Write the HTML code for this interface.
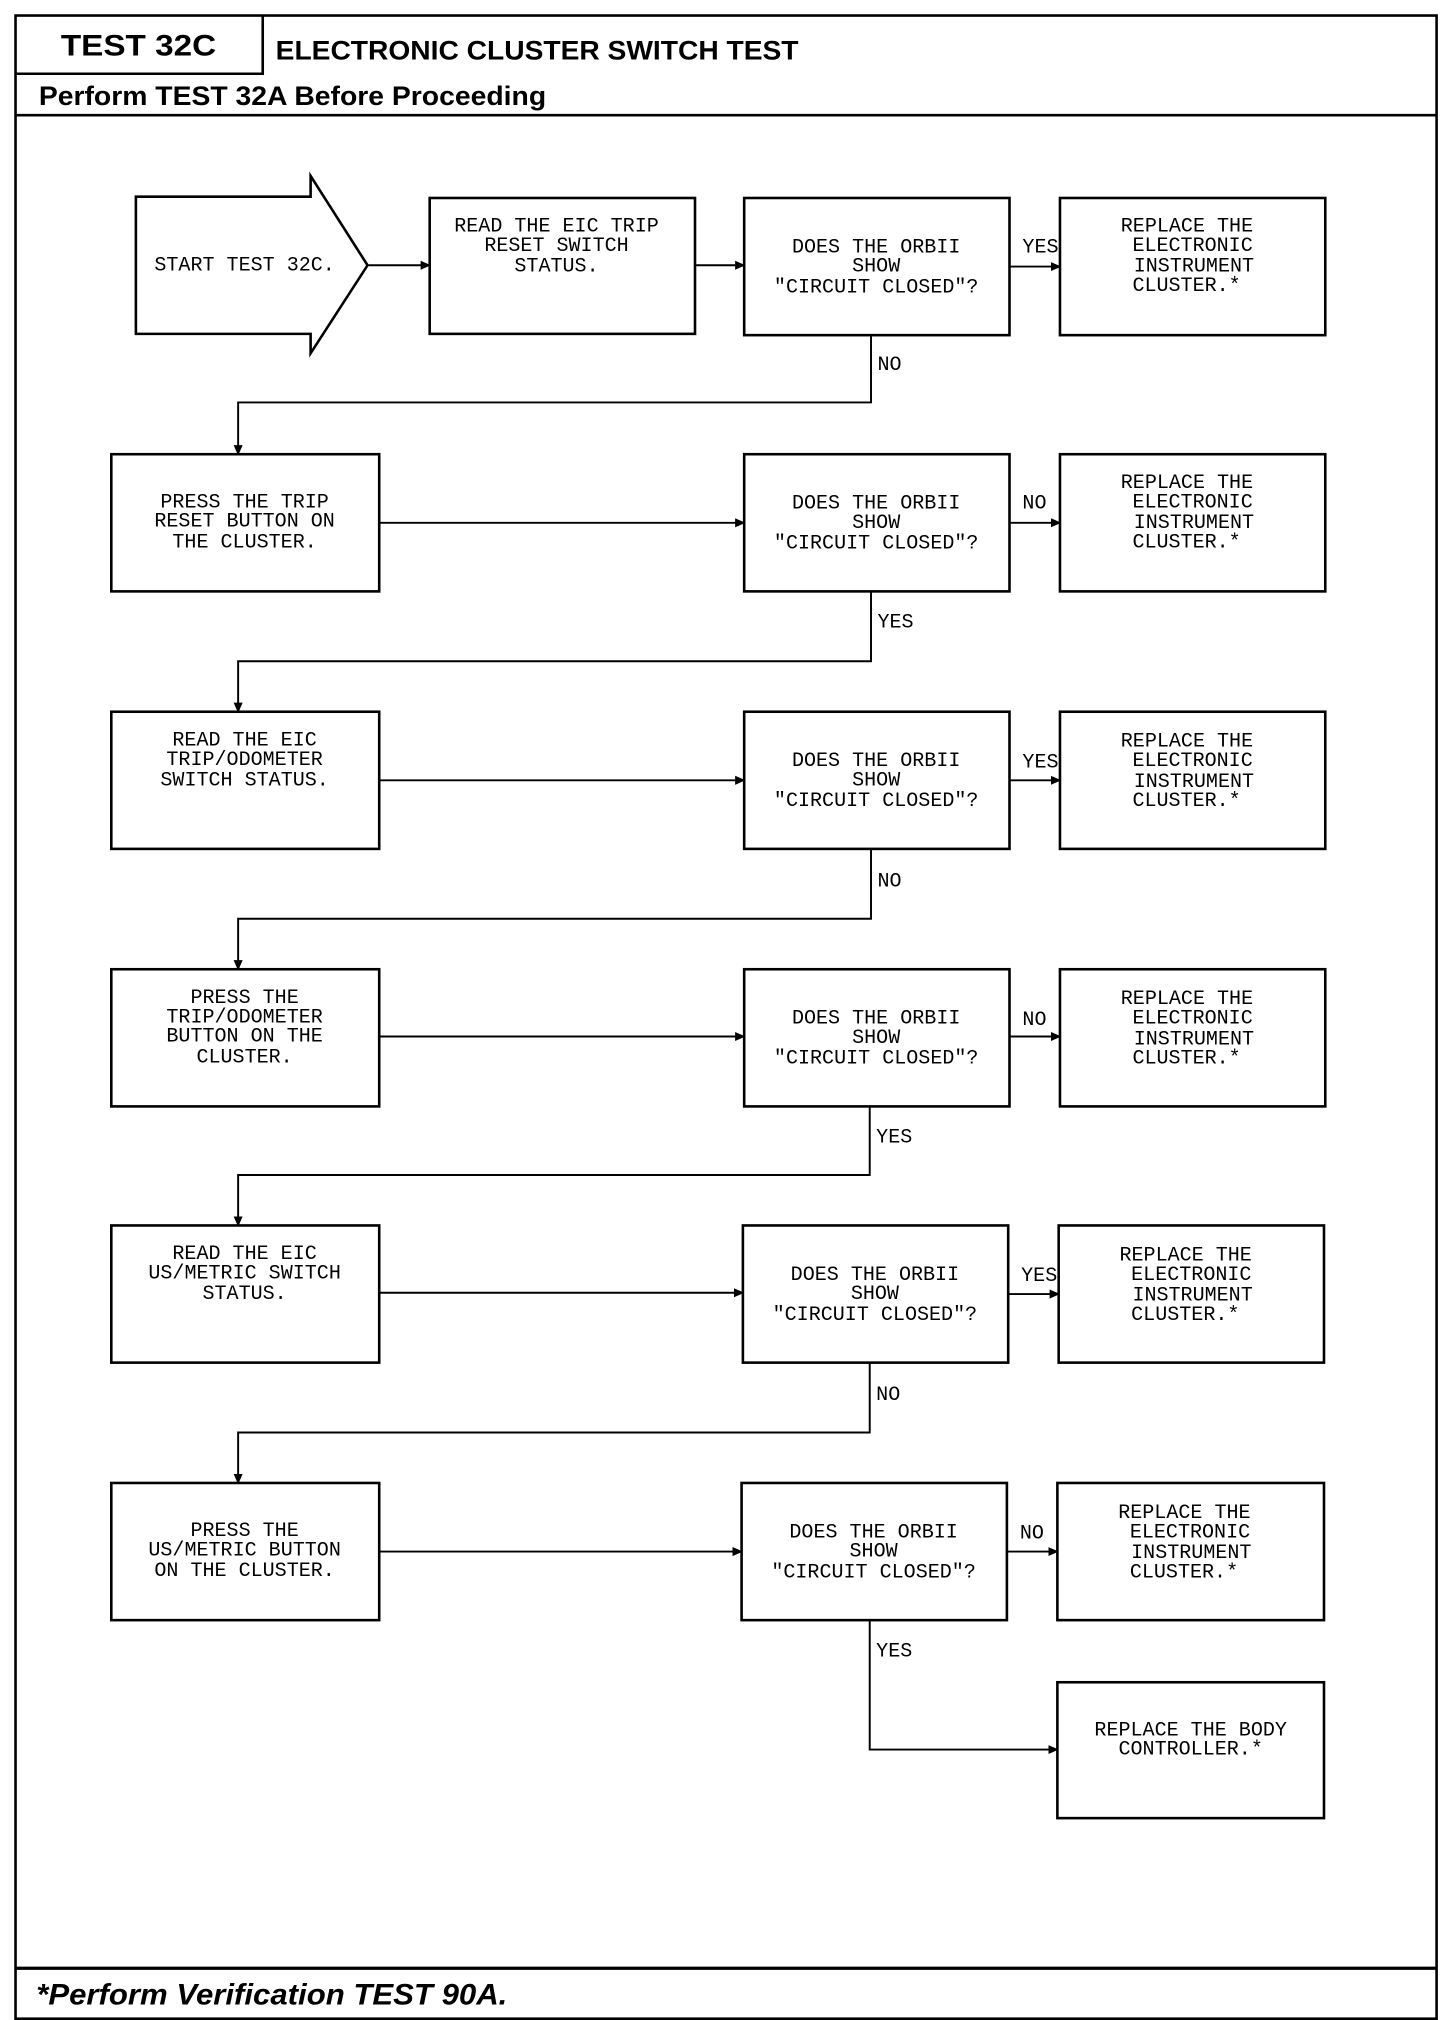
<!DOCTYPE html>
<html><head><meta charset="utf-8"><style>
html,body{margin:0;padding:0;background:#fff;}
svg{display:block;}
.m{font-family:"Liberation Mono",monospace;font-size:15.5px;fill:#000;}
.c{text-anchor:middle;}
</style></head><body>
<svg width="1456" height="2020" viewBox="0 0 1125 1561" preserveAspectRatio="none" xmlns="http://www.w3.org/2000/svg">
<defs><marker id="a" markerWidth="8" markerHeight="8" refX="7" refY="4" orient="auto" markerUnits="userSpaceOnUse"><path d="M0,0.5 L8,4 L0,7.5 z" fill="#000"/></marker></defs>
<rect x="12" y="12" width="1098" height="1548" fill="none" stroke="#000" stroke-width="2"/>
<path d="M203 12 V57 H12" fill="none" stroke="#000" stroke-width="2"/>
<line x1="12" y1="89" x2="1110" y2="89" stroke="#000" stroke-width="2"/>
<line x1="12" y1="1521" x2="1110" y2="1521" stroke="#000" stroke-width="2.5"/>
<text x="107" y="43" text-anchor="middle" font-family="Liberation Sans,sans-serif" font-weight="bold" font-size="23" textLength="120" lengthAdjust="spacingAndGlyphs">TEST 32C</text>
<text x="213" y="46" font-family="Liberation Sans,sans-serif" font-weight="bold" font-size="21" textLength="404" lengthAdjust="spacingAndGlyphs">ELECTRONIC CLUSTER SWITCH TEST</text>
<text x="30" y="81" font-family="Liberation Sans,sans-serif" font-weight="bold" font-size="21" textLength="392" lengthAdjust="spacingAndGlyphs">Perform TEST 32A Before Proceeding</text>
<text x="28" y="1549" font-family="Liberation Sans,sans-serif" font-weight="bold" font-style="italic" font-size="23" textLength="364" lengthAdjust="spacingAndGlyphs">*Perform Verification TEST 90A.</text>

<g fill="none" stroke="#000" stroke-width="2">
<path d="M105 152 H240 V136 L284 205 L240 273 V258 H105 Z"/>
<rect x="332" y="153" width="205" height="105"/>
</g>
<text class="m c" x="189" y="209" font-size="15">START TEST 32C.</text>
<text class="m c" x="430" y="179">READ THE EIC TRIP</text>
<text class="m c" x="430" y="194">RESET SWITCH</text>
<text class="m c" x="430" y="210">STATUS.</text>
<line x1="284" y1="205" x2="332" y2="205" stroke="#000" stroke-width="1.5" marker-end="url(#a)"/>
<line x1="537" y1="205" x2="575" y2="205" stroke="#000" stroke-width="1.5" marker-end="url(#a)"/>

<g fill="none" stroke="#000" stroke-width="2">
<rect x="575" y="153" width="205" height="106"/><rect x="819" y="153" width="205" height="106"/>
<rect x="86" y="351" width="207" height="106"/><rect x="575" y="351" width="205" height="106"/><rect x="819" y="351" width="205" height="106"/>
<rect x="86" y="550" width="207" height="106"/><rect x="575" y="550" width="205" height="106"/><rect x="819" y="550" width="205" height="106"/>
<rect x="86" y="749" width="207" height="106"/><rect x="575" y="749" width="205" height="106"/><rect x="819" y="749" width="205" height="106"/>
<rect x="86" y="947" width="207" height="106"/><rect x="574" y="947" width="205" height="106"/><rect x="818" y="947" width="205" height="106"/>
<rect x="86" y="1146" width="207" height="106"/><rect x="573" y="1146" width="205" height="106"/><rect x="817" y="1146" width="206" height="106"/>
<rect x="817" y="1300" width="206" height="105"/>
</g>
<g fill="none" stroke="#000" stroke-width="1.5">
<line x1="780" y1="206" x2="819" y2="206" marker-end="url(#a)"/>
<path d="M673 259 V311 H184 V351" marker-end="url(#a)"/>
<line x1="293" y1="404" x2="575" y2="404" marker-end="url(#a)"/>
<line x1="780" y1="404" x2="819" y2="404" marker-end="url(#a)"/>
<path d="M673 457 V511 H184 V550" marker-end="url(#a)"/>
<line x1="293" y1="603" x2="575" y2="603" marker-end="url(#a)"/>
<line x1="780" y1="603" x2="819" y2="603" marker-end="url(#a)"/>
<path d="M673 656 V710 H184 V749" marker-end="url(#a)"/>
<line x1="293" y1="801" x2="575" y2="801" marker-end="url(#a)"/>
<line x1="780" y1="801" x2="819" y2="801" marker-end="url(#a)"/>
<path d="M672 855 V908 H184 V947" marker-end="url(#a)"/>
<line x1="293" y1="999" x2="574" y2="999" marker-end="url(#a)"/>
<line x1="779" y1="1000" x2="818" y2="1000" marker-end="url(#a)"/>
<path d="M672 1053 V1107 H184 V1146" marker-end="url(#a)"/>
<line x1="293" y1="1199" x2="573" y2="1199" marker-end="url(#a)"/>
<line x1="778" y1="1199" x2="817" y2="1199" marker-end="url(#a)"/>
<path d="M672 1252 V1352 H817" marker-end="url(#a)"/>
</g>

<g class="m c">
<text x="677" y="195">DOES THE ORBII</text><text x="677" y="210">SHOW</text><text x="677" y="226">"CIRCUIT CLOSED"?</text>
<text x="677" y="393">DOES THE ORBII</text><text x="677" y="408">SHOW</text><text x="677" y="424">"CIRCUIT CLOSED"?</text>
<text x="677" y="592">DOES THE ORBII</text><text x="677" y="607">SHOW</text><text x="677" y="623">"CIRCUIT CLOSED"?</text>
<text x="677" y="791">DOES THE ORBII</text><text x="677" y="806">SHOW</text><text x="677" y="822">"CIRCUIT CLOSED"?</text>
<text x="676" y="989">DOES THE ORBII</text><text x="676" y="1004">SHOW</text><text x="676" y="1020">"CIRCUIT CLOSED"?</text>
<text x="675" y="1188">DOES THE ORBII</text><text x="675" y="1203">SHOW</text><text x="675" y="1219">"CIRCUIT CLOSED"?</text>
<text x="189" y="392">PRESS THE TRIP</text><text x="189" y="407">RESET BUTTON ON</text><text x="189" y="423">THE CLUSTER.</text>
<text x="189" y="576">READ THE EIC</text><text x="189" y="591">TRIP/ODOMETER</text><text x="189" y="607">SWITCH STATUS.</text>
<text x="189" y="775">PRESS THE</text><text x="189" y="790">TRIP/ODOMETER</text><text x="189" y="805">BUTTON ON THE</text><text x="189" y="821">CLUSTER.</text>
<text x="189" y="973">READ THE EIC</text><text x="189" y="988">US/METRIC SWITCH</text><text x="189" y="1004">STATUS.</text>
<text x="189" y="1187">PRESS THE</text><text x="189" y="1202">US/METRIC BUTTON</text><text x="189" y="1218">ON THE CLUSTER.</text>
<text x="920" y="1341">REPLACE THE BODY</text><text x="920" y="1356">CONTROLLER.*</text>
</g>
<g class="m">
<text x="866" y="179">REPLACE THE</text><text x="875" y="194">ELECTRONIC</text><text x="876" y="210">INSTRUMENT</text><text x="875" y="225">CLUSTER.*</text>
<text x="866" y="377">REPLACE THE</text><text x="875" y="392">ELECTRONIC</text><text x="876" y="408">INSTRUMENT</text><text x="875" y="423">CLUSTER.*</text>
<text x="866" y="577">REPLACE THE</text><text x="875" y="592">ELECTRONIC</text><text x="876" y="608">INSTRUMENT</text><text x="875" y="623">CLUSTER.*</text>
<text x="866" y="776">REPLACE THE</text><text x="875" y="791">ELECTRONIC</text><text x="876" y="807">INSTRUMENT</text><text x="875" y="822">CLUSTER.*</text>
<text x="865" y="974">REPLACE THE</text><text x="874" y="989">ELECTRONIC</text><text x="875" y="1005">INSTRUMENT</text><text x="874" y="1020">CLUSTER.*</text>
<text x="864" y="1173">REPLACE THE</text><text x="873" y="1188">ELECTRONIC</text><text x="874" y="1204">INSTRUMENT</text><text x="873" y="1219">CLUSTER.*</text>
<text x="790" y="195">YES</text><text x="790" y="393">NO</text><text x="790" y="593">YES</text><text x="790" y="792">NO</text><text x="789" y="990">YES</text><text x="788" y="1189">NO</text>
<text x="678" y="286">NO</text><text x="678" y="485">YES</text><text x="678" y="685">NO</text><text x="677" y="883">YES</text><text x="677" y="1082">NO</text><text x="677" y="1280">YES</text>
</g>
</svg>
</body></html>
